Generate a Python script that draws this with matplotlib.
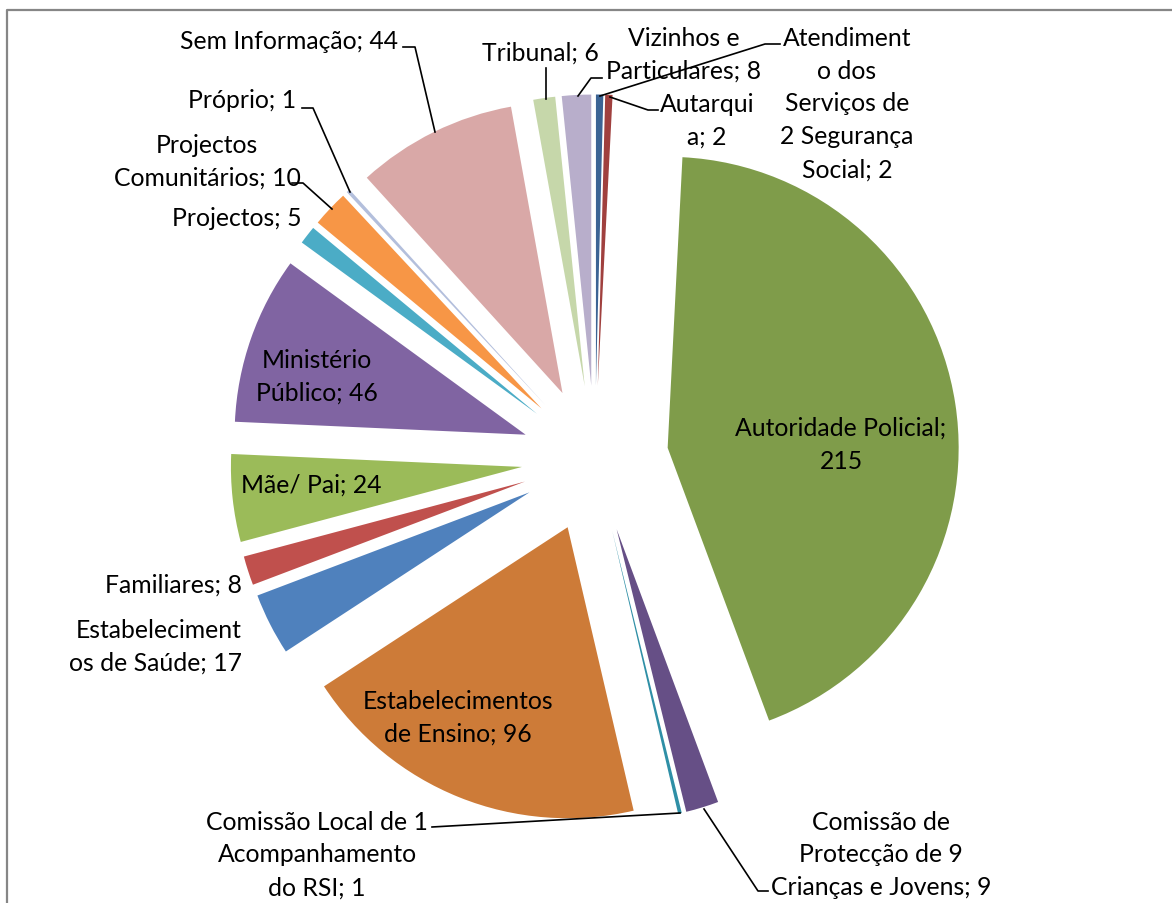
import matplotlib.pyplot as plt

categorias = ["Atendimento dos Serviços de Segurança Social", "Autarquia", "Autoridade Policial",
              "Comissão de Protecção de Crianças e Jovens", "Comissão Local de Acompanhamento do RSI",
              "Estabelecimentos de Ensino", "Estabelecimentos de Saúde", "Familiares", "Mãe/ Pai",
              "Ministério Público", "Projectos", "Projectos Comunitários", "Próprio",
              "Sem Informação", "Tribunal", "Vizinhos e Particulares"]
valores = [2, 2, 215, 9, 1, 96, 17, 8, 24, 46, 5, 10, 1, 44, 6, 8]
rotulos = ["Atendiment\no dos\nServiços de\n2 Segurança\nSocial; 2",
           "Autarqui\na; 2",
           "Autoridade Policial;\n215",
           "Comissão de\nProtecção de 9\nCrianças e Jovens; 9",
           "Comissão Local de 1\nAcompanhamento\ndo RSI; 1",
           "Estabelecimentos\nde Ensino; 96",
           "Estabeleciment\nos de Saúde; 17",
           "Familiares; 8",
           "Mãe/ Pai; 24",
           "Ministério\nPúblico; 46",
           "Projectos; 5",
           "Projectos\nComunitários; 10",
           "Próprio; 1",
           "Sem Informação; 44",
           "Tribunal; 6",
           "Vizinhos e\nParticulares; 8"]
cores = ["#3C6494", "#A0403E", "#7F9C4A", "#664F86", "#2F8FA6", "#CD7B38",
         "#4F81BD", "#C0504D", "#9BBB59", "#8064A2", "#4BACC6", "#F79646",
         "#B3BFDC", "#D9A8A7", "#C6D7AA", "#B8AECB"]

W, H = 1172, 904
CX, CY, R = 595, 460, 291


def px(x, y):
    # pixel position (y down) -> data units (radius = 1)
    return (x - CX) / R, (CY - y) / R


# label position (pixels), horizontal alignment, leader line points (pixels)
layout = {
    0: ((847, 104), "center", [(600, 97), (765, 45), (780, 45)]),
    1: ((707, 121), "center", [(610, 98), (648, 111), (658, 111)]),
    2: ((841, 445), "center", None),
    3: ((881, 855), "center", [(704, 810), (758, 892), (768, 892)]),
    4: ((317, 855), "center", [(680, 814), (432, 828)]),
    5: ((458, 718), "center", None),
    6: ((242, 647), "right", None),
    7: ((242, 585), "right", None),
    8: ((311, 485), "center", None),
    9: ((317, 377), "center", None),
    10: ((302, 219), "right", None),
    11: ((207, 162), "center", [(332, 210), (303, 184), (292, 184)]),
    12: ((296, 101), "right", [(350, 193), (313, 109), (302, 109)]),
    13: ((398, 42), "right", [(435, 133), (415, 48), (403, 48)]),
    14: ((540, 53), "center", [(546, 100), (546, 69)]),
    15: ((684, 55), "center", [(578, 97), (591, 79), (602, 79)]),
}

plt.rcParams['font.family'] = ['Lato', 'DejaVu Sans']

fig = plt.figure(figsize=(W / 100, H / 100), dpi=100)
ax = fig.add_axes([0, 0, 1, 1])

ax.pie(valores, colors=cores, startangle=90, counterclock=False,
       explode=[0.2526] * len(valores), radius=1,
       wedgeprops=dict(linewidth=0))

for i, txt in enumerate(rotulos):
    pos, ha, linha = layout[i]
    x, y = px(*pos)
    ax.text(x, y, txt, ha=ha, va="center", fontsize=17.8, color="black",
            linespacing=1.52, multialignment=ha)
    if linha:
        pts = [px(*p) for p in linha]
        ax.plot([p[0] for p in pts], [p[1] for p in pts], color="black", lw=1.2)

# chart border (only left and top visible in the crop)
b = [px(7, H + 5), px(7, 11), px(W + 5, 11)]
ax.plot([p[0] for p in b], [p[1] for p in b], color="#868686", lw=1.6)

x0, y0 = px(0, H)
x1, y1 = px(W, 0)
ax.set_xlim(x0, x1)
ax.set_ylim(y0, y1)
ax.set_aspect("auto")
ax.axis("off")

fig.savefig("out.png", dpi=100)
